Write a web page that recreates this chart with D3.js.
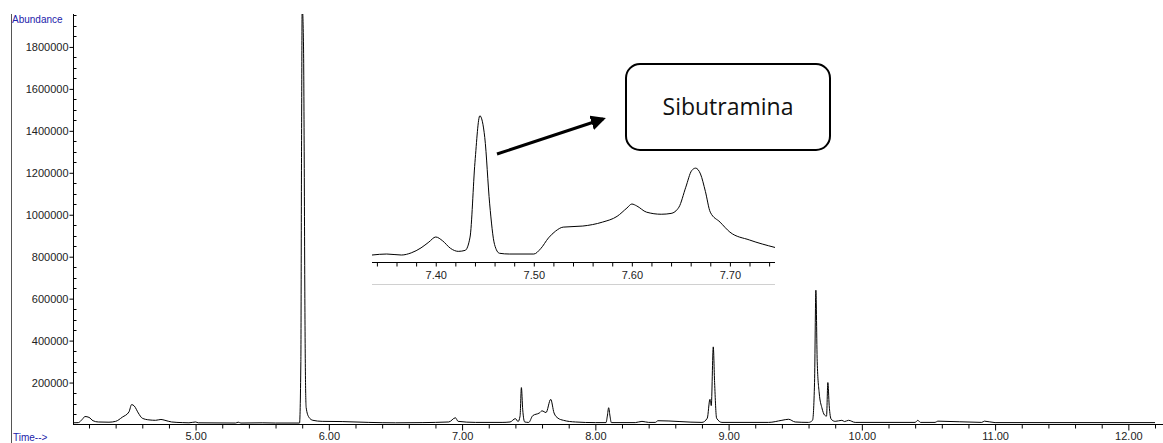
<!DOCTYPE html>
<html>
<head>
<meta charset="utf-8">
<script src="https://cdn.jsdelivr.net/npm/d3@7"></script>
<style>
  body { margin: 0; background: #fff; }
  text { font-family: "Liberation Sans", Arial, sans-serif; }
</style>
</head>
<body>
<script>
// chromatogram: retention time (min) and abundance
var mainTimes = [4.08, 4.12, 4.15, 4.17, 4.20, 4.23, 4.27, 4.35, 4.40, 4.45, 4.50, 4.52, 4.54, 4.57, 4.60, 4.65, 4.70, 4.74, 4.77, 4.82, 4.90, 4.95, 5.00, 5.02, 5.30, 5.32, 5.34, 5.50, 5.60, 5.78,
  5.79, 5.795, 5.80, 5.81, 5.815, 5.82, 5.825, 5.83, 5.85, 5.88, 5.95, 6.10, 6.30, 6.50, 6.70, 6.90, 6.95, 6.97, 7.10, 7.30, 7.36, 7.40, 7.42, 7.435, 7.445, 7.455, 7.47, 7.50,
  7.53, 7.58, 7.60, 7.63, 7.665, 7.69, 7.72, 7.76, 7.85, 8.00, 8.08, 8.09, 8.10, 8.11, 8.12, 8.30, 8.35, 8.40, 8.45, 8.47, 8.80, 8.84, 8.86, 8.87, 8.885, 8.895, 8.91, 8.95,
  9.30, 9.40, 9.45, 9.50, 9.60, 9.63, 9.645, 9.655, 9.665, 9.68, 9.70, 9.72, 9.735, 9.745, 9.755, 9.77, 9.80, 9.85, 9.87, 9.90, 9.95, 10.40, 10.42, 10.44, 10.55, 10.57, 10.90, 10.92, 11.00, 12.20];
var mainAbund = [8000, 9000, 25000, 38000, 34000, 18000, 12000, 11000, 15000, 35000, 60000, 95000, 88000, 55000, 30000, 22000, 20000, 24000, 20000, 12000, 9000, 8000, 12000, 8000, 7000, 11000, 7000, 8000, 7000, 7000,
  300000, 1300000, 2000000, 1800000, 1300000, 600000, 200000, 80000, 35000, 20000, 15000, 14000, 10000, 8000, 9000, 12000, 32000, 15000, 10000, 10000, 12000, 28000, 14000, 40000, 176000, 70000, 12000, 10000,
  42000, 55000, 65000, 57000, 120000, 55000, 30000, 20000, 12000, 9000, 9000, 40000, 80000, 40000, 9000, 9000, 15000, 10000, 10000, 18000, 10000, 30000, 120000, 90000, 370000, 200000, 30000, 10000,
  10000, 20000, 25000, 12000, 10000, 20000, 200000, 640000, 300000, 150000, 80000, 45000, 40000, 200000, 90000, 25000, 15000, 20000, 14000, 20000, 10000, 10000, 20000, 10000, 10000, 16000, 10000, 16000, 9000, 9000];

// zoomed view 7.335 - 7.746 min
var insetTimes = [7.335, 7.35, 7.365, 7.375, 7.385, 7.393, 7.40, 7.407, 7.415, 7.423, 7.43, 7.435, 7.44, 7.445, 7.45, 7.455, 7.46, 7.465, 7.475, 7.50, 7.507, 7.515, 7.522, 7.53, 7.55, 7.57, 7.585, 7.595, 7.60, 7.605, 7.615, 7.63, 7.64, 7.648, 7.655, 7.661, 7.665, 7.67, 7.675, 7.68, 7.69, 7.70, 7.72, 7.746];
var insetAbund = [8400, 9600, 8400, 11000, 17000, 24000, 30100, 25500, 16500, 12800, 14000, 30000, 120000, 176000, 150000, 70000, 21000, 10500, 9600, 9600, 16000, 29000, 37000, 42000, 43300, 48000, 55000, 65000, 69800, 67500, 60000, 57500, 58500, 66000, 90000, 110000, 113000, 106000, 85000, 60000, 48000, 36000, 26500, 17500];

var yTickValues = [200000, 400000, 600000, 800000, 1000000, 1200000, 1400000, 1600000, 1800000];
var xLabelValues = [5, 6, 7, 8, 9, 10, 11, 12];
var insetLabelValues = [7.4, 7.5, 7.6, 7.7];
var compoundName = "Sibutramina";

var width = 1163, height = 443;
var svg = d3.select("body").append("svg")
    .attr("width", width)
    .attr("height", height);

// main scales
var x = d3.scaleLinear().domain([4.08, 12.2]).range([73, 1155]);
var y = d3.scaleLinear().domain([0, 1957000]).range([424.5, 14]);

svg.append("defs").append("clipPath").attr("id", "plotclip")
  .append("rect").attr("x", 73).attr("y", 14).attr("width", 1090).attr("height", 411);

// left frame line
svg.append("line")
    .attr("x1", 11.5).attr("x2", 11.5).attr("y1", 14).attr("y2", 443)
    .attr("stroke", "#555").attr("stroke-width", 1);

// y axis
var yAxis = svg.append("g")
    .attr("transform", "translate(73.5,0)")
    .call(d3.axisLeft(y).tickValues(yTickValues).tickSize(4).tickFormat(d3.format("d")));
yAxis.select(".domain").attr("d", "M0," + 14 + "V" + 424.5);
yAxis.selectAll("text").attr("font-size", 11).attr("fill", "#222").attr("x", -5);

// minor y ticks, right of the axis
var yMinor = d3.range(50000, 1957000, 50000).filter(function(v) { return v % 200000 !== 0; });
svg.append("g").selectAll("line").data(yMinor).enter().append("line")
    .attr("x1", 73.5).attr("x2", 76.5)
    .attr("y1", function(d) { return Math.round(y(d)) + 0.5; })
    .attr("y2", function(d) { return Math.round(y(d)) + 0.5; })
    .attr("stroke", "#000");

// x axis
var xMinor = d3.range(4.2, 12.21, 0.2).map(function(v) { return Math.round(v * 10) / 10; });
var xAxis = svg.append("g")
    .attr("transform", "translate(0,424.5)")
    .call(d3.axisBottom(x).tickValues(xMinor).tickSize(4)
      .tickFormat(function(d) { return xLabelValues.indexOf(d) >= 0 ? d3.format(".2f")(d) : ""; }));
xAxis.select(".domain").attr("d", "M73,0H1163");
xAxis.selectAll(".tick line").attr("y2", function(d) { return xLabelValues.indexOf(d) >= 0 ? 6 : 4; });
xAxis.selectAll("text").attr("font-size", 11).attr("fill", "#222").attr("y", 8);

// axis captions
svg.append("text").attr("x", 12).attr("y", 23).attr("font-size", 10).attr("fill", "#2222aa").text("Abundance");
svg.append("text").attr("x", 13).attr("y", 441).attr("font-size", 10).attr("fill", "#2222aa").text("Time-->");

// main trace
var mainData = mainTimes.map(function(t, i) { return [t, mainAbund[i]]; });
var line = d3.line().curve(d3.curveMonotoneX)
    .x(function(d) { return x(d[0]); }).y(function(d) { return y(d[1]); });
svg.append("path")
    .datum(mainData)
    .attr("clip-path", "url(#plotclip)")
    .attr("fill", "none").attr("stroke", "#000").attr("stroke-width", 1)
    .attr("d", line);

// inset
var xi = d3.scaleLinear().domain([7.335, 7.746]).range([372, 775]);
var yi = d3.scaleLinear().domain([0, 183000]).range([262, 110]);
var inset = svg.append("g");
inset.append("rect").attr("x", 372).attr("y", 108).attr("width", 403).attr("height", 178).attr("fill", "#fff");
var insetData = insetTimes.map(function(t, i) { return [t, insetAbund[i]]; });
inset.append("path")
    .datum(insetData)
    .attr("fill", "none").attr("stroke", "#000").attr("stroke-width", 1)
    .attr("d", d3.line().curve(d3.curveMonotoneX)
      .x(function(d) { return xi(d[0]); }).y(function(d) { return yi(d[1]); }));
var insetTicks = d3.range(7.34, 7.75, 0.02).map(function(v) { return Math.round(v * 100) / 100; });
var ia = inset.append("g")
    .attr("transform", "translate(0,262.5)")
    .call(d3.axisBottom(xi).tickValues(insetTicks).tickSize(4)
      .tickFormat(function(d) { return insetLabelValues.indexOf(d) >= 0 ? d3.format(".2f")(d) : ""; }));
ia.select(".domain").attr("d", "M372,0H775");
ia.selectAll("text").attr("font-size", 11).attr("fill", "#222").attr("y", 9);
inset.append("line").attr("x1", 372).attr("x2", 775).attr("y1", 284.5).attr("y2", 284.5)
    .attr("stroke", "#d0d0d0");

// annotation box and arrow
svg.append("defs").append("marker")
    .attr("id", "arrow").attr("viewBox", "0 0 10 10").attr("refX", 8).attr("refY", 5)
    .attr("markerWidth", 5).attr("markerHeight", 5).attr("orient", "auto")
  .append("path").attr("d", "M0,0L10,5L0,10z").attr("fill", "#000");
svg.append("line")
    .attr("x1", 497).attr("y1", 154).attr("x2", 603).attr("y2", 119)
    .attr("stroke", "#000").attr("stroke-width", 3)
    .attr("marker-end", "url(#arrow)");
svg.append("rect")
    .attr("x", 626).attr("y", 64).attr("width", 204).attr("height", 86)
    .attr("rx", 14).attr("ry", 14)
    .attr("fill", "#fff").attr("stroke", "#000").attr("stroke-width", 2);
svg.append("text")
    .attr("x", 728).attr("y", 115).attr("text-anchor", "middle")
    .attr("font-size", 23).attr("fill", "#111")
    .style("font-family", "'Open Sans', 'Noto Sans', sans-serif")
    .text(compoundName);
</script>
</body>
</html>
